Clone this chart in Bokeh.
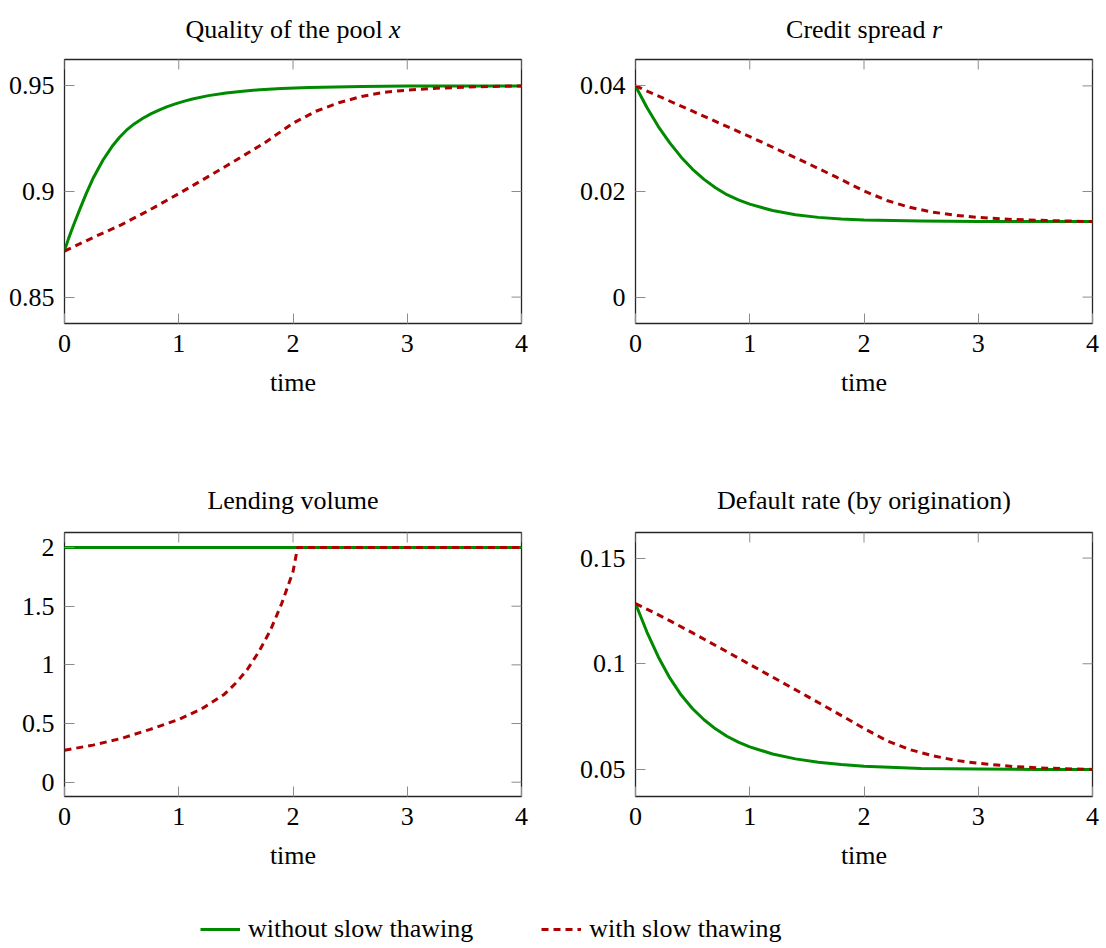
import math

from bokeh.plotting import figure
from bokeh.layouts import column, row
from bokeh.models import Range1d, FixedTicker, Legend, LegendItem
from bokeh.core.properties import value
from bokeh.embed import file_html
from bokeh.resources import INLINE

# ---------------------------------------------------------------- data
x_ticks = [0, 1, 2, 3, 4]
x_tick_labels = ["0", "1", "2", "3", "4"]

titles = ["Quality of the pool ", "Credit spread ", "Lending volume",
          "Default rate (by origination)"]
title_symbols = ["x", "r"]
series_names = ["without slow thawing", "with slow thawing"]

# time grids
t_fast = [0, 0.1, 0.2, 0.3, 0.4, 0.5, 0.6, 0.7, 0.8, 0.9, 1.0,
          1.2, 1.4, 1.6, 1.8, 2.0, 2.5, 3.0, 3.5, 4.0]
t_slow = [0, 0.25, 0.5, 0.75, 1.0, 1.25, 1.5, 1.75, 2.0,
          2.2, 2.4, 2.6, 2.8, 3.0, 3.3, 3.6, 4.0]

# Quality of the pool x
t_quality_fast = [0, 0.036, 0.073, 0.131, 0.19, 0.248, 0.336, 0.423, 0.48,
                  0.54, 0.61, 0.686, 0.76, 0.832, 0.9, 0.977, 1.05, 1.12,
                  1.26, 1.415, 1.56, 1.71, 1.9, 2.14, 2.6, 3.0, 3.5, 4.0]
quality_fast = [0.8719, 0.8778, 0.8832, 0.8912, 0.8990, 0.9060, 0.9148, 0.9218,
                0.9256, 0.9289, 0.9320, 0.9347, 0.9369, 0.9387, 0.9402, 0.9416,
                0.9428, 0.9438, 0.9454, 0.9466, 0.9475, 0.9482, 0.9488, 0.9492,
                0.9497, 0.9499, 0.95, 0.95]
quality_slow = [0.8718, 0.8782, 0.8843, 0.8914, 0.8990, 0.9068, 0.9148, 0.9230,
                0.9323, 0.938, 0.942, 0.945, 0.947, 0.948, 0.949, 0.9496, 0.95]
quality_ticks = [0.85, 0.9, 0.95]
quality_tick_labels = ["0.85", "0.9", "0.95"]

# Credit spread r
spread_fast = [0.0400, 0.0359, 0.0323, 0.0292, 0.0265, 0.0242, 0.0223, 0.0207,
               0.0194, 0.0184, 0.0176, 0.0164, 0.0156, 0.0151, 0.0148, 0.0146,
               0.0144, 0.0143, 0.0143, 0.0143]
spread_slow = [0.0400, 0.0376, 0.0352, 0.0328, 0.0304, 0.0279, 0.0254, 0.0228,
               0.0201, 0.0183, 0.0170, 0.0161, 0.0155, 0.0151, 0.0147, 0.0145, 0.0143]
spread_ticks = [0, 0.02, 0.04]
spread_tick_labels = ["0", "0.02", "0.04"]

# Lending volume
t_lend_fast = [0, 4]
lending_fast = [2.0, 2.0]
t_lend_slow = [0, 0.25, 0.5, 0.75, 1.0, 1.2, 1.4, 1.5, 1.6, 1.7, 1.8, 1.9,
               2.0, 2.04, 2.5, 3.0, 3.5, 4.0]
lending_slow = [0.272, 0.316, 0.374, 0.450, 0.535, 0.625, 0.750, 0.845, 0.960,
                1.110, 1.290, 1.520, 1.793, 2.0, 2.0, 2.0, 2.0, 2.0]
lending_ticks = [0, 0.5, 1, 1.5, 2]
lending_tick_labels = ["0", "0.5", "1", "1.5", "2"]

# Default rate (by origination)
default_fast = [0.1285, 0.1150, 0.1032, 0.0933, 0.0852, 0.0787, 0.0735, 0.0692,
                0.0657, 0.0629, 0.0607, 0.0573, 0.0550, 0.0534, 0.0523, 0.0515,
                0.0505, 0.0502, 0.0500, 0.0500]
default_slow = [0.1285, 0.1218, 0.1146, 0.1072, 0.0997, 0.0922, 0.0847, 0.0771,
                0.0694, 0.0636, 0.0594, 0.0565, 0.0543, 0.0529, 0.0514, 0.0506, 0.0500]
default_ticks = [0.05, 0.1, 0.15]
default_tick_labels = ["0.05", "0.1", "0.15"]

# ---------------------------------------------------------------- style
FONT = "Liberation Serif"
FS = "26px"
GREEN = "#008a00"
RED = "#ad0000"
TICK = "#8c8c8c"
DASH = "7 5"
PAGE_W = 1106
FRAME_W, FRAME_H = 457, 264
STRIP_H = 45
TOP_H, BOT_H = 425, 375
LEG_H = 948 - 2 * STRIP_H - TOP_H - BOT_H


def style_axis(ax, ticks, labels, standoff):
    ax.ticker = FixedTicker(ticks=ticks)
    ax.major_label_overrides = {t: s for t, s in zip(ticks, labels)}
    ax.axis_line_color = None
    ax.major_tick_in = 10
    ax.major_tick_out = 0
    ax.major_tick_line_color = TICK
    ax.major_tick_line_width = 1
    ax.minor_tick_line_color = None
    ax.major_label_text_font = FONT
    ax.major_label_text_font_size = FS
    ax.major_label_text_color = "black"
    ax.major_label_standoff = standoff


def make_panel(height, left, right, top, y_lo, y_hi, y_ticks, y_labels):
    p = figure(width=left + FRAME_W + right, height=height,
               x_range=Range1d(0, 4), y_range=Range1d(y_lo, y_hi),
               min_border_left=left, min_border_right=right,
               min_border_top=top, min_border_bottom=height - top - FRAME_H,
               output_backend="svg", toolbar_location=None, tools="")
    p.xgrid.visible = False
    p.ygrid.visible = False
    p.outline_line_color = "#262626"
    p.outline_line_width = 1.3
    p.outline_line_alpha = 1.0

    xa = p.xaxis[0]
    style_axis(xa, x_ticks, x_tick_labels, 11)
    xa.axis_label = "time"
    xa.axis_label_text_font = FONT
    xa.axis_label_text_font_size = FS
    xa.axis_label_text_font_style = "normal"
    xa.axis_label_text_color = "black"
    xa.axis_label_standoff = 13

    style_axis(p.yaxis[0], y_ticks, y_labels, 10)

    # inward ticks on the top and right edges of the frame (half of each
    # dash marker falls outside the frame and is clipped away)
    p.scatter(x=x_ticks, y=[y_hi] * len(x_ticks), marker="dash", size=20,
              angle=math.pi / 2, line_color=TICK, line_width=1)
    p.scatter(x=[4] * len(y_ticks), y=y_ticks, marker="dash", size=20,
              line_color=TICK, line_width=1)
    return p


def add_series(p, tf, yf, ts, ys):
    p.line(tf, yf, line_color=GREEN, line_width=3, line_join="round")
    p.line(ts, ys, line_color=RED, line_width=3, line_dash=DASH, line_join="round")


def title_strip():
    s = figure(width=PAGE_W, height=STRIP_H,
               x_range=Range1d(0, PAGE_W), y_range=Range1d(STRIP_H, 0),
               min_border=0, x_axis_location=None, y_axis_location=None,
               output_backend="svg", toolbar_location=None, tools="")
    s.outline_line_color = None
    s.xgrid.visible = False
    s.ygrid.visible = False
    return s


def put_text(s, x, y, txt, align, style="normal"):
    s.text(x=[x], y=[y], text=[txt], text_font=value(FONT),
           text_font_size=value(FS), text_font_style=value(style),
           text_align=align, text_baseline="alphabetic", text_color="black")


# ---------------------------------------------------------------- panels
p1 = make_panel(TOP_H, 64, 32, 14, 0.8375, 0.9625,
                quality_ticks, quality_tick_labels)
add_series(p1, t_quality_fast, quality_fast, t_slow, quality_slow)

p2 = make_panel(TOP_H, 82, 14, 14, -0.005, 0.045,
                spread_ticks, spread_tick_labels)
add_series(p2, t_fast, spread_fast, t_slow, spread_slow)

p3 = make_panel(BOT_H, 64, 32, 17, -0.122, 2.128,
                lending_ticks, lending_tick_labels)
add_series(p3, t_lend_fast, lending_fast, t_lend_slow, lending_slow)

p4 = make_panel(BOT_H, 82, 14, 17, 0.0372, 0.1621,
                default_ticks, default_tick_labels)
add_series(p4, t_fast, default_fast, t_slow, default_slow)

# ---------------------------------------------------------------- titles
s_top = title_strip()
put_text(s_top, 388.6, 29.3, titles[0], "right")
put_text(s_top, 388.6, 29.3, title_symbols[0], "left", "italic")
put_text(s_top, 931.4, 29.3, titles[1], "right")
put_text(s_top, 931.4, 29.3, title_symbols[1], "left", "italic")

s_bot = title_strip()
put_text(s_bot, 292.5, 30.0, titles[2], "center")
put_text(s_bot, 863.5, 30.0, titles[3], "center")

# ---------------------------------------------------------------- legend strip
leg = figure(width=PAGE_W, height=LEG_H,
             x_range=Range1d(0, 1), y_range=Range1d(0, 1),
             min_border=0, x_axis_location=None, y_axis_location=None,
             output_backend="svg", toolbar_location=None, tools="")
leg.outline_line_color = None
leg.xgrid.visible = False
leg.ygrid.visible = False
# key renderers sit outside the visible range; only their legend swatches show
r_fast = leg.line([-2, -1], [-2, -2], line_color=GREEN, line_width=3)
r_slow = leg.line([-2, -1], [-2, -2], line_color=RED, line_width=3, line_dash=DASH)
legend = Legend(items=[LegendItem(label=series_names[0], renderers=[r_fast]),
                       LegendItem(label=series_names[1], renderers=[r_slow])],
                orientation="horizontal", location=(200, 4),
                glyph_width=40, glyph_height=20, label_standoff=8, spacing=68,
                padding=0, margin=0, border_line_color=None,
                background_fill_alpha=0,
                label_text_font=FONT, label_text_font_size=FS,
                label_text_color="black")
leg.add_layout(legend, "center")

layout = column(s_top, row(p1, p2), s_bot, row(p3, p4), leg)

open("out.html", "w").write(file_html(layout, INLINE))
